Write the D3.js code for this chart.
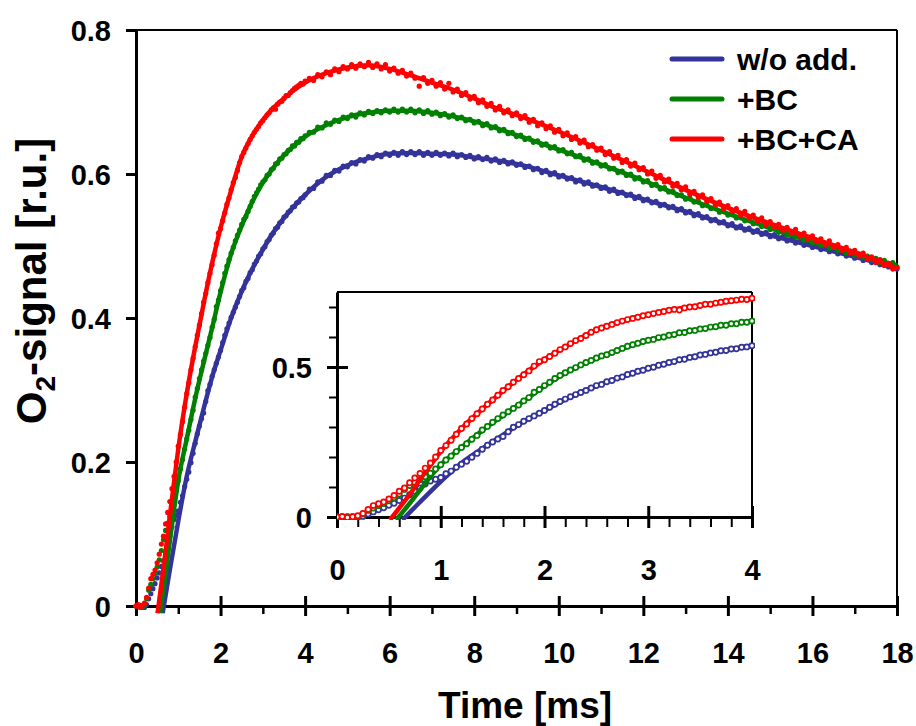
<!DOCTYPE html>
<html lang="en">
<head>
<meta charset="UTF-8">
<title>O2-signal kinetics</title>
<script src="https://d3js.org/d3.v7.min.js"></script>
<style>
    html, body { margin: 0; padding: 0; background: #fff; overflow: hidden; }
    svg text { font-family: "Liberation Sans", Arial, sans-serif; font-weight: bold; fill: #000; }
</style>
</head>
<body>
<svg id="chart" width="916" height="726"></svg>
<script>
// ---- data ----
const seriesNames = ["w/o add.", "+BC", "+BC+CA"];
const seriesColors = ["#333399", "#008000", "#ff0000"];

const xTicksMain = [0, 2, 4, 6, 8, 10, 12, 14, 16, 18];
const yTicksMain = [0, 0.2, 0.4, 0.6, 0.8];
const xTicksInset = [0, 1, 2, 3, 4];
const yTicksInset = [0, 0.5];

// measured points, 0 .. 4 ms every 0.05 ms
const earlyStep = 0.05;
const blueEarly = [0.000,0.000,0.000,0.001,-0.002,0.002,0.010,0.017,0.024,0.031,
    0.039,0.046,0.055,0.063,0.074,0.086,0.097,0.110,0.120,0.126,
    0.132,0.144,0.153,0.166,0.176,0.186,0.199,0.212,0.226,0.239,
    0.250,0.260,0.268,0.284,0.299,0.308,0.319,0.328,0.337,0.346,
    0.355,0.366,0.376,0.385,0.393,0.401,0.408,0.415,0.422,0.430,
    0.438,0.442,0.451,0.455,0.463,0.467,0.475,0.479,0.486,0.489,
    0.496,0.499,0.506,0.509,0.515,0.518,0.524,0.526,0.532,0.534,
    0.540,0.542,0.547,0.549,0.554,0.555,0.560,0.561,0.566,0.567,0.571];
const greenEarly = [0.000,0.000,0.001,-0.002,0.002,0.010,0.022,0.030,0.038,0.045,
    0.054,0.064,0.077,0.092,0.105,0.115,0.124,0.134,0.146,0.160,
    0.174,0.190,0.203,0.218,0.232,0.244,0.259,0.272,0.290,0.302,
    0.316,0.328,0.340,0.351,0.362,0.373,0.387,0.398,0.416,0.425,
    0.438,0.449,0.462,0.472,0.481,0.490,0.498,0.507,0.515,0.522,
    0.530,0.537,0.541,0.548,0.555,0.562,0.569,0.574,0.579,0.585,
    0.589,0.592,0.598,0.600,0.606,0.608,0.614,0.615,0.621,0.622,
    0.627,0.628,0.633,0.634,0.639,0.639,0.644,0.644,0.649,0.649,0.653];
const redEarly = [0.000,0.002,-0.002,0.001,0.004,0.012,0.025,0.038,0.044,0.050,
    0.060,0.072,0.086,0.097,0.114,0.130,0.145,0.163,0.180,0.200,
    0.222,0.238,0.256,0.276,0.295,0.310,0.328,0.344,0.360,0.376,
    0.390,0.406,0.422,0.434,0.449,0.462,0.474,0.487,0.503,0.518,
    0.524,0.535,0.546,0.558,0.567,0.578,0.588,0.595,0.605,0.616,
    0.624,0.630,0.636,0.642,0.648,0.653,0.658,0.662,0.666,0.671,
    0.674,0.678,0.682,0.685,0.689,0.692,0.690,0.697,0.700,0.701,
    0.705,0.709,0.709,0.713,0.716,0.719,0.721,0.723,0.726,0.725,0.729];

// measured points, 4.1 .. 18 ms every 0.1 ms (one row per ms)
const lateStart = 4.1, lateStep = 0.1;
const blueLate = [
    0.579,0.580,0.589,0.590,0.598,0.598,0.605,0.604,0.611,0.610,
    0.616,0.614,0.620,0.618,0.624,0.622,0.627,0.624,0.629,0.626,
    0.630,0.626,0.631,0.627,0.631,0.627,0.631,0.626,0.630,0.626,
    0.630,0.626,0.629,0.625,0.629,0.624,0.627,0.623,0.626,0.621,
    0.624,0.620,0.623,0.618,0.621,0.616,0.619,0.614,0.617,0.612,
    0.614,0.609,0.611,0.606,0.608,0.602,0.605,0.599,0.602,0.596,
    0.598,0.593,0.595,0.589,0.592,0.586,0.589,0.583,0.585,0.580,
    0.582,0.576,0.579,0.573,0.575,0.570,0.572,0.566,0.569,0.563,
    0.565,0.560,0.562,0.556,0.558,0.553,0.555,0.549,0.552,0.546,
    0.548,0.542,0.545,0.539,0.541,0.535,0.537,0.532,0.534,0.528,
    0.531,0.525,0.528,0.522,0.525,0.519,0.522,0.516,0.519,0.513,
    0.516,0.510,0.513,0.507,0.510,0.504,0.507,0.501,0.504,0.498,
    0.501,0.495,0.498,0.492,0.495,0.489,0.492,0.486,0.489,0.483,
    0.486,0.480,0.483,0.477,0.480,0.474,0.477,0.471,0.474,0.468];
const greenLate = [
    0.658,0.658,0.665,0.664,0.671,0.669,0.675,0.673,0.679,0.677,
    0.682,0.679,0.685,0.682,0.687,0.684,0.688,0.685,0.689,0.686,
    0.690,0.686,0.690,0.686,0.690,0.685,0.689,0.684,0.688,0.683,
    0.686,0.681,0.684,0.679,0.682,0.677,0.679,0.674,0.676,0.671,
    0.673,0.667,0.670,0.664,0.666,0.660,0.662,0.656,0.658,0.652,
    0.654,0.648,0.650,0.644,0.646,0.640,0.642,0.636,0.638,0.632,
    0.634,0.628,0.630,0.624,0.626,0.619,0.621,0.615,0.617,0.611,
    0.613,0.607,0.608,0.602,0.604,0.598,0.600,0.593,0.595,0.589,
    0.591,0.584,0.586,0.579,0.581,0.575,0.576,0.570,0.571,0.565,
    0.567,0.561,0.562,0.556,0.558,0.552,0.554,0.547,0.549,0.543,
    0.545,0.539,0.541,0.535,0.537,0.531,0.533,0.527,0.529,0.523,
    0.525,0.519,0.521,0.515,0.517,0.512,0.514,0.508,0.510,0.504,
    0.506,0.501,0.503,0.497,0.499,0.494,0.496,0.490,0.493,0.487,
    0.489,0.484,0.486,0.481,0.483,0.477,0.480,0.474,0.477,0.471];
const redLate = [
    0.733,0.730,0.738,0.735,0.742,0.738,0.746,0.742,0.749,0.746,
    0.752,0.747,0.753,0.749,0.755,0.748,0.753,0.746,0.752,0.743,
    0.747,0.740,0.744,0.736,0.740,0.733,0.722,0.734,0.726,0.730,
    0.722,0.727,0.718,0.726,0.714,0.718,0.709,0.713,0.704,0.708,
    0.699,0.703,0.694,0.698,0.689,0.694,0.685,0.689,0.681,0.685,
    0.677,0.681,0.672,0.676,0.667,0.671,0.663,0.667,0.658,0.662,
    0.653,0.657,0.648,0.652,0.643,0.647,0.638,0.641,0.633,0.636,
    0.627,0.631,0.622,0.626,0.616,0.620,0.611,0.615,0.606,0.609,
    0.600,0.604,0.594,0.598,0.589,0.593,0.583,0.587,0.578,0.582,
    0.572,0.576,0.567,0.571,0.562,0.566,0.557,0.561,0.552,0.556,
    0.548,0.552,0.543,0.548,0.539,0.543,0.535,0.539,0.530,0.534,
    0.526,0.530,0.522,0.526,0.518,0.523,0.514,0.518,0.510,0.514,
    0.506,0.510,0.502,0.507,0.498,0.502,0.494,0.498,0.490,0.494,
    0.486,0.490,0.482,0.485,0.477,0.481,0.473,0.476,0.468,0.470];

// fitted curves, [time ms, signal]
const blueFit = [[0.63,-0.01],[0.8,0.05],[1.0,0.118],[1.2,0.180],[1.4,0.228],[1.6,0.274],
    [1.8,0.318],[2.0,0.355],[2.25,0.400],[2.5,0.437],[2.75,0.468],[3.0,0.495],[3.25,0.519],
    [3.5,0.539],[3.75,0.556],[4.0,0.571],[4.5,0.596],[5.0,0.612],[5.5,0.622],[6.0,0.628],
    [6.5,0.629],[7.0,0.628],[7.5,0.627],[8.0,0.623],[8.5,0.619],[9.0,0.614],[10.0,0.598],
    [11.0,0.582],[12.0,0.565],[13.0,0.548],[14.0,0.530],[15.0,0.515],[16.0,0.500],
    [17.0,0.485],[18.0,0.470]];
const greenFit = [[0.57,-0.01],[0.7,0.045],[0.8,0.090],[0.9,0.134],[1.0,0.174],[1.2,0.232],
    [1.4,0.288],[1.6,0.338],[1.8,0.386],[2.0,0.436],[2.25,0.489],[2.5,0.528],[2.75,0.561],
    [3.0,0.588],[3.25,0.609],[3.5,0.626],[3.75,0.640],[4.0,0.652],[4.5,0.668],[5.0,0.679],
    [5.5,0.685],[6.0,0.688],[6.5,0.688],[7.0,0.685],[7.5,0.680],[8.0,0.673],[8.5,0.664],
    [9.0,0.654],[10.0,0.634],[11.0,0.613],[12.0,0.591],[13.0,0.567],[14.0,0.545],
    [15.0,0.525],[16.0,0.506],[17.0,0.489],[18.0,0.473]];
const redFit = [[0.51,-0.01],[0.6,0.030],[0.7,0.075],[0.8,0.125],[0.9,0.172],[1.0,0.218],
    [1.2,0.295],[1.4,0.360],[1.6,0.420],[1.8,0.476],[2.0,0.525],[2.25,0.577],[2.5,0.624],
    [2.75,0.653],[3.0,0.675],[3.25,0.692],[3.5,0.705],[3.75,0.717],[4.0,0.727],[4.5,0.740],
    [5.0,0.748],[5.5,0.751],[6.0,0.746],[6.5,0.737],[7.0,0.727],[7.5,0.717],[8.0,0.705],
    [8.5,0.692],[9.0,0.682],[10.0,0.659],[11.0,0.633],[12.0,0.606],[13.0,0.578],
    [14.0,0.553],[15.0,0.531],[16.0,0.511],[17.0,0.491],[18.0,0.469]];

// ---- build ----
const earlyArr = [blueEarly, greenEarly, redEarly];
const lateArr = [blueLate, greenLate, redLate];
const fitArr = [blueFit, greenFit, redFit];
const series = seriesNames.map((name, k) => {
    const early = earlyArr[k].map((v, i) => [+(i * earlyStep).toFixed(2), v]);
    const late = lateArr[k].map((v, i) => [+(lateStart + i * lateStep).toFixed(2), v]);
    return { name, color: seriesColors[k], early, points: early.concat(late), fit: fitArr[k] };
});

const svg = d3.select("#chart");

// main plot scales
const x = d3.scaleLinear().domain([0, 18]).range([136, 897]);
const y = d3.scaleLinear().domain([0, 0.8]).range([606, 30]);

// inset scales
const xi = d3.scaleLinear().domain([0, 4]).range([337, 752]);
const yi = d3.scaleLinear().domain([0, 0.75]).range([517, 292]);

const fmt = d => d === 0 ? "0" : d3.format(".1f")(d);

// frame of main plot
svg.append("line").attr("x1", x(0)).attr("x2", x(18)).attr("y1", y(0.8)).attr("y2", y(0.8))
    .attr("stroke", "#000").attr("stroke-width", 2);
svg.append("line").attr("x1", x(18)).attr("x2", x(18)).attr("y1", y(0.8)).attr("y2", y(0))
    .attr("stroke", "#000").attr("stroke-width", 2);

function styleAxis(g, width) {
    g.select(".domain").attr("stroke", "#000").attr("stroke-width", width);
    g.selectAll(".tick line").attr("stroke", "#000").attr("stroke-width", width);
}

// main x axis: major ticks cross the line, minor below
const gxMinor = svg.append("g").attr("transform", `translate(0,${y(0)})`)
    .call(d3.axisBottom(x).tickValues(d3.range(1, 18, 2)).tickSize(8).tickFormat(""));
gxMinor.select(".domain").remove();
gxMinor.selectAll(".tick line").attr("stroke", "#000").attr("stroke-width", 2.5);

const gx = svg.append("g").attr("transform", `translate(0,${y(0)})`)
    .call(d3.axisBottom(x).tickValues(xTicksMain).tickSizeOuter(0).tickFormat(d3.format("d")));
styleAxis(gx, 3);
gx.selectAll(".tick line").attr("y1", -10).attr("y2", 10);
gx.selectAll(".tick text").attr("y", 57).attr("dy", 0).style("font-size", "29px");

const gy = svg.append("g").attr("transform", `translate(${x(0)},0)`)
    .call(d3.axisLeft(y).tickValues(yTicksMain).tickSize(10).tickSizeOuter(0).tickFormat(fmt));
styleAxis(gy, 3);
gy.selectAll(".tick text").attr("x", -25).attr("dy", "0.35em").style("font-size", "29px");

// axis titles
svg.append("text").attr("x", 525).attr("y", 718).attr("text-anchor", "middle")
    .style("font-size", "37px").text("Time [ms]");
const yt = svg.append("text").attr("transform", "translate(46,281) rotate(-90)")
    .attr("text-anchor", "middle").style("font-size", "42px");
yt.append("tspan").text("O");
yt.append("tspan").attr("dy", 9).style("font-size", "28px").text("2");
yt.append("tspan").attr("dy", -9).text("-signal [r.u.]");

// main curves
const line = d3.line().x(d => x(d[0])).y(d => y(d[1])).curve(d3.curveMonotoneX);
series.forEach(s => {
    const g = svg.append("g");
    g.append("path").datum(s.fit).attr("d", line)
        .attr("fill", "none").attr("stroke", s.color).attr("stroke-width", 4.5)
        .attr("stroke-linejoin", "round");
    g.selectAll("circle").data(s.points).join("circle")
        .attr("cx", d => x(d[0])).attr("cy", d => y(d[1])).attr("r", 2.6)
        .attr("fill", s.color);
});

// legend
const legend = svg.append("g");
series.forEach((s, k) => {
    const ly = 59 + k * 40;
    legend.append("line").attr("x1", 672).attr("x2", 722).attr("y1", ly).attr("y2", ly)
        .attr("stroke", s.color).attr("stroke-width", 5).attr("stroke-linecap", "round");
    legend.append("text").attr("x", 737).attr("y", ly).attr("dy", "0.36em")
        .style("font-size", "30px").text(s.name);
});

// ---- inset ----
const inset = svg.append("g");
inset.append("rect").attr("x", xi(0)).attr("y", yi(0.75))
    .attr("width", xi(4) - xi(0)).attr("height", yi(0) - yi(0.75)).attr("fill", "#fff");
svg.append("clipPath").attr("id", "insetClip").append("rect")
    .attr("x", xi(0)).attr("y", yi(0.75) - 3)
    .attr("width", xi(4) - xi(0) + 3).attr("height", yi(0) - yi(0.75) + 6);

inset.append("line").attr("x1", xi(0)).attr("x2", xi(4)).attr("y1", yi(0.75)).attr("y2", yi(0.75))
    .attr("stroke", "#000").attr("stroke-width", 2);
inset.append("line").attr("x1", xi(4)).attr("x2", xi(4)).attr("y1", yi(0.75)).attr("y2", yi(0))
    .attr("stroke", "#000").attr("stroke-width", 2);

const ixMinor = inset.append("g").attr("transform", `translate(0,${yi(0)})`)
    .call(d3.axisBottom(xi).tickValues(d3.range(0.2, 4, 0.2).filter(v => Math.abs(v - Math.round(v)) > 0.01))
        .tickSize(10).tickFormat(""));
ixMinor.select(".domain").remove();
ixMinor.selectAll(".tick line").attr("stroke", "#000").attr("stroke-width", 2);

const iyMinor = inset.append("g").attr("transform", `translate(${xi(0)},0)`)
    .call(d3.axisLeft(yi).tickValues([0.1, 0.2, 0.3, 0.4, 0.6, 0.7]).tickSize(8).tickFormat(""));
iyMinor.select(".domain").remove();
iyMinor.selectAll(".tick line").attr("stroke", "#000").attr("stroke-width", 2);

const ix = inset.append("g").attr("transform", `translate(0,${yi(0)})`)
    .call(d3.axisBottom(xi).tickValues(xTicksInset).tickSizeOuter(0).tickFormat(d3.format("d")));
styleAxis(ix, 3);
ix.selectAll(".tick line").attr("y1", -11).attr("y2", 11);
ix.selectAll(".tick text").attr("y", 63).attr("dy", 0).style("font-size", "29px");

const iy = inset.append("g").attr("transform", `translate(${xi(0)},0)`)
    .call(d3.axisLeft(yi).tickValues(yTicksInset).tickSizeOuter(0).tickFormat(fmt));
styleAxis(iy, 3);
iy.selectAll(".tick line").attr("x1", -10).attr("x2", 11);
iy.selectAll(".tick text").attr("x", -25).attr("dy", "0.35em").style("font-size", "29px");

const lineI = d3.line().x(d => xi(d[0])).y(d => yi(d[1])).curve(d3.curveMonotoneX);
series.forEach(s => {
    const g = inset.append("g").attr("clip-path", "url(#insetClip)");
    g.append("path").datum(s.fit).attr("d", lineI)
        .attr("fill", "none").attr("stroke", s.color).attr("stroke-width", 4.5);
    g.selectAll("circle").data(s.early).join("circle")
        .attr("cx", d => xi(d[0])).attr("cy", d => yi(d[1])).attr("r", 2.6)
        .attr("fill", "#fff").attr("stroke", s.color).attr("stroke-width", 1.7);
});
</script>
</body>
</html>
